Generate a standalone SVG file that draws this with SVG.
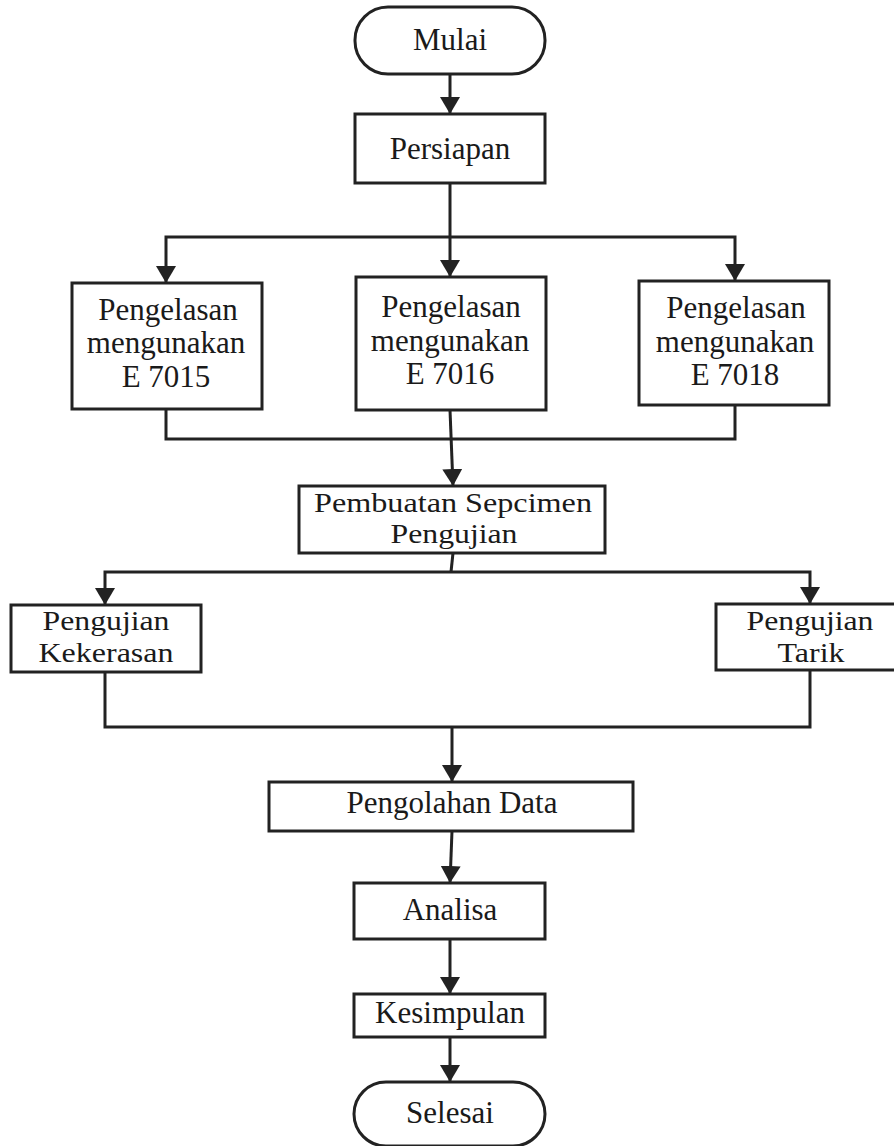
<svg xmlns="http://www.w3.org/2000/svg" width="894" height="1146" viewBox="0 0 894 1146">
<style>
.box{fill:#fff;stroke:#222;stroke-width:3}
.ln{fill:none;stroke:#222;stroke-width:3}
.t{font-family:"Liberation Serif","Times New Roman",serif;font-size:31px;fill:#1a1a1a;text-anchor:middle}
.c{font-size:27px}
</style>
<defs>
<marker id="ah" markerUnits="userSpaceOnUse" viewBox="0 0 17 20" refX="17" refY="10" markerWidth="17" markerHeight="20" orient="auto">
<path d="M0,0 L17,10 L0,20 z" fill="#222"/>
</marker>
</defs>
<rect width="894" height="1146" fill="#fff"/>
<g id="connectors">
<path class="ln" d="M450,75 V114" marker-end="url(#ah)"/>
<path class="ln" d="M450,183 V277" marker-end="url(#ah)"/>
<path class="ln" d="M450,237 H166 V283" marker-end="url(#ah)"/>
<path class="ln" d="M450,237 H735 V281" marker-end="url(#ah)"/>
<path class="ln" d="M166,409 V439 H735 V405"/>
<path class="ln" d="M450,410 L453,486" marker-end="url(#ah)"/>
<path class="ln" d="M453,553 L451,572"/>
<path class="ln" d="M451,572 H105 V605" marker-end="url(#ah)"/>
<path class="ln" d="M451,572 H810 V604" marker-end="url(#ah)"/>
<path class="ln" d="M105,672 V727 H810 V670"/>
<path class="ln" d="M452,727 V782" marker-end="url(#ah)"/>
<path class="ln" d="M452,831 L450,883" marker-end="url(#ah)"/>
<path class="ln" d="M450,939 V994" marker-end="url(#ah)"/>
<path class="ln" d="M450,1037 V1082" marker-end="url(#ah)"/>
</g>
<g id="mulai">
<rect class="box" x="355" y="7" width="190" height="67" rx="33" ry="33"/>
<text class="t" x="450" y="50">Mulai</text>
</g>
<g id="persiapan">
<rect class="box" x="355" y="114" width="190" height="69"/>
<text class="t" x="450" y="159">Persiapan</text>
</g>
<g id="e7015">
<rect class="box" x="72" y="283" width="190" height="126"/>
<text class="t" x="168" y="320">Pengelasan</text>
<text class="t" x="166" y="353">mengunakan</text>
<text class="t" x="166" y="387">E 7015</text>
</g>
<g id="e7016">
<rect class="box" x="356" y="277" width="190" height="133"/>
<text class="t" x="451" y="317">Pengelasan</text>
<text class="t" x="450" y="351">mengunakan</text>
<text class="t" x="450" y="384">E 7016</text>
</g>
<g id="e7018">
<rect class="box" x="639" y="281" width="190" height="124"/>
<text class="t" x="736" y="318">Pengelasan</text>
<text class="t" x="735" y="352">mengunakan</text>
<text class="t" x="735" y="385">E 7018</text>
</g>
<g id="pembuatan">
<rect class="box" x="299" y="486" width="306" height="67"/>
<text class="t c" x="453" y="512" textLength="278" lengthAdjust="spacingAndGlyphs">Pembuatan Sepcimen</text>
<text class="t c" x="454" y="543" textLength="127" lengthAdjust="spacingAndGlyphs">Pengujian</text>
</g>
<g id="kekerasan">
<rect class="box" x="11" y="605" width="190" height="67"/>
<text class="t c" x="106" y="630" textLength="127" lengthAdjust="spacingAndGlyphs">Pengujian</text>
<text class="t c" x="106" y="662" textLength="135" lengthAdjust="spacingAndGlyphs">Kekerasan</text>
</g>
<g id="tarik">
<rect class="box" x="716" y="604" width="180" height="66"/>
<text class="t c" x="810" y="630" textLength="127" lengthAdjust="spacingAndGlyphs">Pengujian</text>
<text class="t c" x="811" y="662" textLength="67" lengthAdjust="spacingAndGlyphs">Tarik</text>
</g>
<g id="pengolahan">
<rect class="box" x="269" y="782" width="364" height="49"/>
<text class="t" x="452" y="813">Pengolahan Data</text>
</g>
<g id="analisa">
<rect class="box" x="354" y="883" width="191" height="56"/>
<text class="t" x="450" y="920">Analisa</text>
</g>
<g id="kesimpulan">
<rect class="box" x="354" y="994" width="191" height="43"/>
<text class="t" x="450" y="1023">Kesimpulan</text>
</g>
<g id="selesai">
<rect class="box" x="354" y="1082" width="191" height="64" rx="32" ry="32"/>
<text class="t" x="450" y="1123">Selesai</text>
</g>
</svg>
